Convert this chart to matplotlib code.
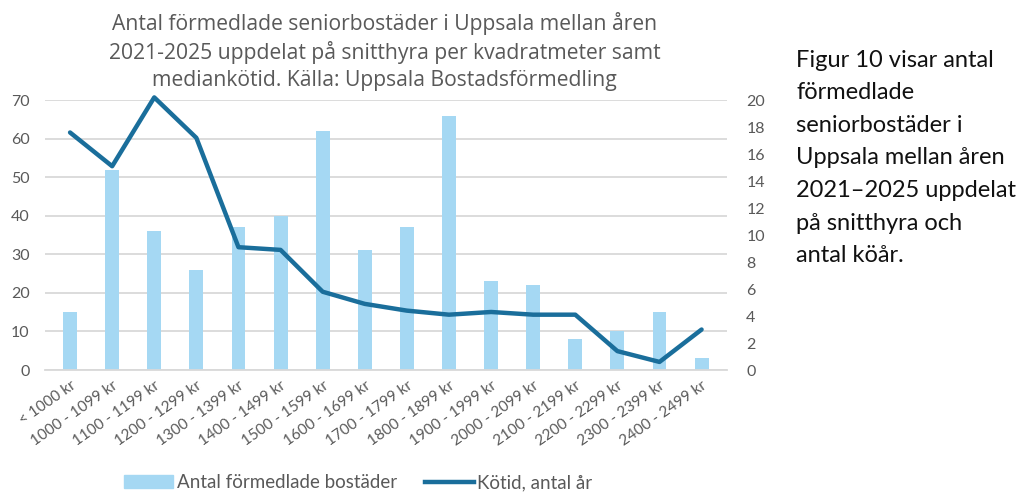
import matplotlib
matplotlib.use("Agg")
import matplotlib.pyplot as plt
from matplotlib.lines import Line2D
from matplotlib.patches import Patch
import numpy as np

categories = ["< 1000 kr", "1000 - 1099 kr", "1100 - 1199 kr", "1200 - 1299 kr",
              "1300 - 1399 kr", "1400 - 1499 kr", "1500 - 1599 kr", "1600 - 1699 kr",
              "1700 - 1799 kr", "1800 - 1899 kr", "1900 - 1999 kr", "2000 - 2099 kr",
              "2100 - 2199 kr", "2200 - 2299 kr", "2300 - 2399 kr", "2400 - 2499 kr"]
antal = [15, 52, 36, 26, 37, 40, 62, 31, 37, 66, 23, 22, 8, 10, 15, 3]
kotid = [17.6, 15.1, 20.2, 17.2, 9.1, 8.9, 5.8, 4.9, 4.4, 4.1, 4.3, 4.1, 4.1, 1.4, 0.6, 3.0]

plt.rcParams['font.family'] = ['Lato', 'DejaVu Sans']

fig = plt.figure(figsize=(10.18, 4.98), dpi=100)
ax = fig.add_axes([0.044, 0.257, 0.670, 0.542])
ax2 = ax.twinx()

x = np.arange(len(categories))
bar_c = "#a5d8f3"
line_c = "#1a6e9b"
grey = "#595959"

ax.bar(x, antal, width=0.33, color=bar_c, zorder=2)
ax2.plot(x, kotid, color=line_c, lw=3.2, solid_joinstyle='round', solid_capstyle='round', zorder=3, clip_on=False)

ax.set_ylim(0, 70)
ax.set_yticks(range(0, 71, 10))
ax2.set_ylim(0, 20)
ax2.set_yticks(range(0, 21, 2))
ax.set_xlim(-0.6, len(categories) - 0.4)

ax.yaxis.grid(True, color="#d9d9d9", lw=1.3, zorder=0)
ax.set_axisbelow(True)
for a in (ax, ax2):
    for s in a.spines.values():
        s.set_visible(False)
    a.tick_params(length=0, colors=grey, labelsize=11.5)
ax.spines['bottom'].set_visible(True)
ax.spines['bottom'].set_color("#d9d9d9")
ax.spines['bottom'].set_linewidth(1.3)
ax.tick_params(axis='y', pad=11)
ax2.tick_params(axis='y', pad=14)

ax.set_xticks(x)
ax.set_xticklabels(categories, rotation=35, ha='right', rotation_mode='anchor', fontsize=11, color=grey)
ax.tick_params(axis='x', pad=6)

fig.text(0.378, 0.975, "Antal förmedlade seniorbostäder i Uppsala mellan åren\n2021-2025 uppdelat på snitthyra per kvadratmeter samt\nmediankötid. Källa: Uppsala Bostadsförmedling",
         ha='center', va='top', fontsize=15.2, color=grey, linespacing=1.33, family=['Open Sans', 'DejaVu Sans'])

fig.text(0.782, 0.9, "Figur 10 visar antal\nförmedlade\nseniorbostäder i\nUppsala mellan åren\n2021–2025 uppdelat\npå snitthyra och\nantal köår.",
         ha='left', va='top', fontsize=17, color="#111111", linespacing=1.68)

handles = [Patch(color=bar_c, label="Antal förmedlade bostäder"),
           Line2D([0], [0], color=line_c, lw=3.2, label="Kötid, antal år")]
fig.legend(handles=handles, loc='lower center', bbox_to_anchor=(0.352, -0.02), ncol=2, frameon=False,
           fontsize=13.5, labelcolor=grey, handlelength=2.6, handletextpad=0.2, columnspacing=1.5)

fig.savefig("out.png", dpi=100)
